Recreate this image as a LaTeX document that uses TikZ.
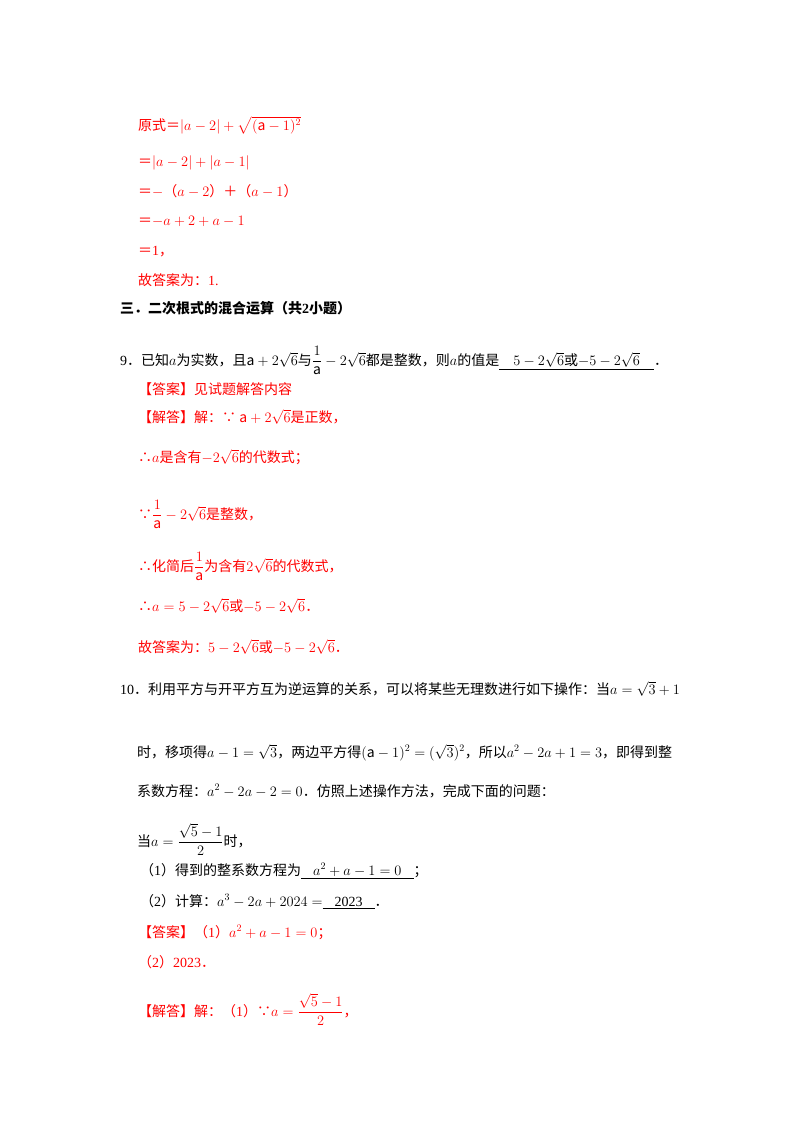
\documentclass[tikz,border=0pt]{standalone}
\usepackage{amsmath}
\usepackage{fontspec}
\setmainfont{Noto Sans CJK SC}
\newfontfamily\lat{Liberation Serif}
\begin{document}
\begin{tikzpicture}[x=1pt,y=-1pt,
  t/.style={anchor=base west,inner sep=0pt,font=\fontsize{14}{16}\selectfont},
  r/.style={t,text=red}]
\useasboundingbox (0,0) rectangle (800,1132);
\node[r] (l1) at (138,130) {原式＝$|a-2|+\sqrt{(\mathrm{a}-1)^2}$};
\node[r] (l2) at (138,166) {＝$|a-2|+|a-1|$};
\node[r] (l3) at (138,196) {＝$-$（$a-2$）＋（$a-1$）};
\node[r] (l4) at (138,225) {＝$-a+2+a-1$};
\node[r] (l5) at (138,255) {＝{\lat 1}，};
\node[r] (l6) at (138,285) {故答案为：{\lat 1.}};
\node[t,font=\fontsize{14}{16}\selectfont\bfseries] (h3) at (120,313) {三．二次根式的混合运算（共{\lat\bfseries 2}小题）};
\node[t] (q9) at (120,365) {{\lat 9}．已知$a$为实数，且$\mathrm{a}+2\sqrt6$与$\dfrac{1}{\mathrm{a}}-2\sqrt6$都是整数，则$a$的值是\underline{\hspace{14pt}$5-2\sqrt6$或$-5-2\sqrt6$\hspace{14pt}}．};
\node[r] (a9) at (138,394) {【答案】见试题解答内容};
\node[r] (s9) at (138,422) {【解答】解：∵ $\mathrm{a}+2\sqrt6$是正数，};
\node[r] (s9b) at (138,462) {∴$a$是含有$-2\sqrt6$的代数式；};
\node[r] (s9c) at (138,519) {∵$\dfrac{1}{\mathrm{a}}-2\sqrt6$是整数，};
\node[r] (s9d) at (138,571) {∴化简后$\dfrac{1}{\mathrm{a}}$为含有$2\sqrt6$的代数式，};
\node[r] (s9e) at (138,611) {∴$a=5-2\sqrt6$或$-5-2\sqrt6$．};
\node[r] (s9f) at (138,652) {故答案为：$5-2\sqrt6$或$-5-2\sqrt6$．};
\node[t] (q10) at (120,694) {{\lat 10}．利用平方与开平方互为逆运算的关系，可以将某些无理数进行如下操作：当$a=\sqrt3+1$};
\node[t] (q10b) at (137,757) {时，移项得$a-1=\sqrt3$，两边平方得$(\mathrm{a}-1)^2=(\sqrt3)^2$，所以$a^2-2a+1=3$，即得到整};
\node[t] (q10c) at (137,796) {系数方程：$a^2-2a-2=0$．仿照上述操作方法，完成下面的问题：};
\node[t] (q10d) at (137,846) {当$a=\dfrac{\sqrt5-1}{2}$时，};
\node[t] (p1) at (140,875) {（{\lat 1}）得到的整系数方程为\underline{\hspace{12pt}$a^2+a-1=0$\hspace{12pt}}；};
\node[t] (p2) at (140,906) {（{\lat 2}）计算：$a^3-2a+2024=$\underline{\hspace{12pt}{\lat 2023}\hspace{12pt}}．};
\node[r] (a10) at (138,937) {【答案】（{\lat 1}）$a^2+a-1=0$；};
\node[r] (a10b) at (138,967) {（{\lat 2}）{\lat 2023}．};
\node[r] (s10) at (138,1016) {【解答】解：（{\lat 1}）∵$a=\dfrac{\sqrt5-1}{2}$，};
\end{tikzpicture}
\end{document}
